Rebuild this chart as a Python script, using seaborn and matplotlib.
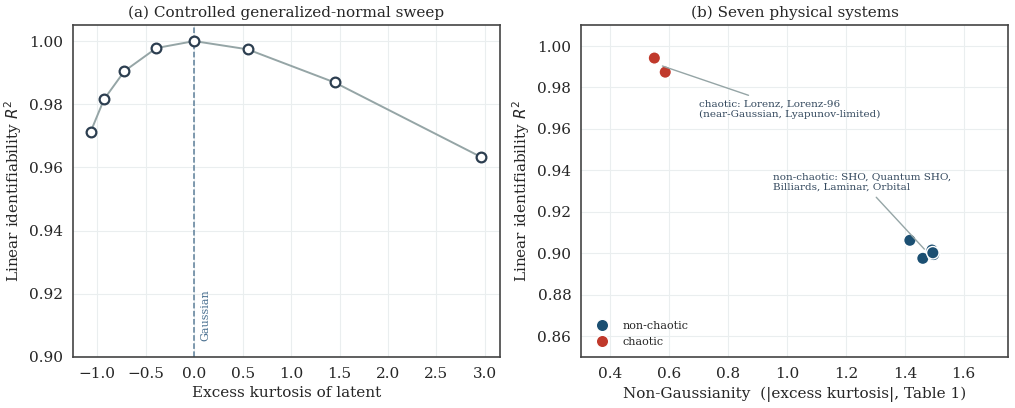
import numpy as np
import pandas as pd
import seaborn as sns
from matplotlib import pyplot as plt

# panel (a): generalized-normal sweep
sweep_kurtosis = [-1.07, -0.93, -0.72, -0.39, 0.00, 0.55, 1.45, 2.96]
sweep_r2 = [0.9712, 0.9816, 0.9905, 0.9978, 1.0000, 0.9974, 0.9869, 0.9633]

# panel (b): seven physical systems
system_names = ["Lorenz", "Lorenz-96", "SHO", "Quantum SHO", "Billiards", "Laminar", "Orbital"]
system_kurtosis = [0.549, 0.586, 1.417, 1.461, 1.492, 1.498, 1.495]
system_r2 = [0.9942, 0.9874, 0.9063, 0.8976, 0.9016, 0.8994, 0.9003]
system_kind = ["chaotic", "chaotic", "non-chaotic", "non-chaotic", "non-chaotic", "non-chaotic", "non-chaotic"]

sns.set_style("whitegrid")
plt.rcParams['font.family'] = ['DejaVu Serif']
plt.rcParams['axes.edgecolor'] = '#444444'
plt.rcParams['grid.color'] = '#eaeeef'

sweep = pd.DataFrame({"k": sweep_kurtosis, "r2": sweep_r2})
systems = pd.DataFrame({"k": system_kurtosis, "r2": system_r2, "kind": system_kind, "name": system_names})

fig, axes = plt.subplots(1, 2, figsize=(10.15, 4.08), dpi=100)
fig.subplots_adjust(left=0.072, right=0.993, top=0.938, bottom=0.125, wspace=0.19)

# (a)
ax = axes[0]
ax.axvline(0, color='#5d7f99', ls='--', lw=1.1, zorder=1)
sns.lineplot(data=sweep, x="k", y="r2", ax=ax, color='#95a5a6', lw=1.4,
             marker='o', markersize=7, markerfacecolor='white',
             markeredgecolor='#2c3e50', markeredgewidth=1.6, zorder=3)
ax.text(0.06, 0.905, "Gaussian", rotation=90, color='#4a7090', fontsize=8,
        ha='left', va='bottom')
ax.set_xlim(-1.25, 3.155)
ax.set_ylim(0.90, 1.005)
ax.set_xticks(np.arange(-1.0, 3.01, 0.5))
ax.set_yticks(np.arange(0.90, 1.001, 0.02))
ax.set_xlabel("Excess kurtosis of latent", fontsize=11)
ax.set_ylabel("Linear identifiability $R^2$", fontsize=11)
ax.set_title("(a) Controlled generalized-normal sweep", fontsize=11)

# (b)
ax = axes[1]
sns.scatterplot(data=systems, x="k", y="r2", hue="kind", hue_order=["non-chaotic", "chaotic"],
                palette={"non-chaotic": "#1b4f72", "chaotic": "#c0392b"},
                s=80, edgecolor='white', linewidth=1.0, ax=ax, zorder=3)
chaos = systems[systems.kind == "chaotic"]
calm = systems[systems.kind == "non-chaotic"]
ax.annotate("chaotic: Lorenz, Lorenz-96\n(near-Gaussian, Lyapunov-limited)",
            xy=(chaos.k.mean(), chaos.r2.mean()), xytext=(0.70, 0.9695),
            fontsize=7.5, color='#34495e', va='center', ha='left',
            arrowprops=dict(arrowstyle='-', color='#95a5a6', lw=1.0))
ax.annotate("non-chaotic: SHO, Quantum SHO,\nBilliards, Laminar, Orbital",
            xy=(calm.k.mean(), calm.r2.mean()), xytext=(0.953, 0.9343),
            fontsize=7.5, color='#34495e', va='center', ha='left',
            arrowprops=dict(arrowstyle='-', color='#95a5a6', lw=1.0))
ax.set_xlim(0.30, 1.75)
ax.set_ylim(0.85, 1.01)
ax.set_xticks(np.arange(0.4, 1.61, 0.2))
ax.set_yticks(np.arange(0.86, 1.001, 0.02))
ax.set_xlabel("Non-Gaussianity  (|excess kurtosis|, Table 1)", fontsize=11)
ax.set_ylabel("Linear identifiability $R^2$", fontsize=11)
ax.set_title("(b) Seven physical systems", fontsize=11)
ax.legend(loc='lower left', frameon=False, fontsize=8, title=None,
          labelspacing=0.55, borderaxespad=0.5)

for a in axes:
    a.tick_params(labelsize=11)
    for s in a.spines.values():
        s.set_linewidth(1.2)

fig.savefig("out.png", dpi=100)
